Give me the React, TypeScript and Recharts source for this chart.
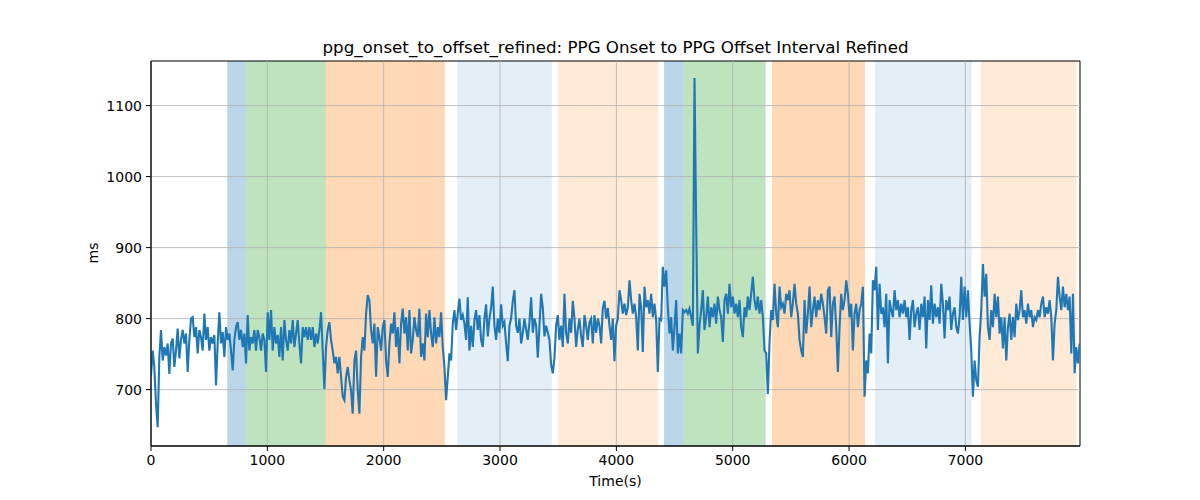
import { Line, LineChart, ReferenceArea, ReferenceLine, XAxis, YAxis } from 'recharts'

// one sample every ~14.3 s in six stretches
const TIME_STEP = 14.33

const SEG_A = [
  720, 755, 732, 680, 647, 746, 784, 741, 760, 748,
  765, 722, 765, 772, 732, 755, 786, 744, 770, 784,
  765, 779, 725, 770, 800, 802, 774, 788, 751, 784,
  774, 755, 807, 770, 788, 755, 774, 765, 777, 706,
  765, 809, 765, 781, 746, 788, 770, 779, 755, 727,
  770, 788, 795, 770, 784, 760, 779, 737, 805, 755,
  774, 765, 784, 755, 784, 774, 755, 779, 770, 725,
  809, 770, 812, 755, 788, 765, 777, 746, 788, 741,
  798, 770, 755, 784, 765, 798, 760, 779, 798, 765,
  737, 788, 774, 788, 770,
]

const SEG_B = [
  788, 770, 788, 760, 779, 765, 784, 809, 755, 701,
  760, 784, 795, 770, 755, 737, 746, 723, 746, 718,
  690, 685, 718, 732, 713, 699, 666, 741, 755, 699,
  666, 746, 774, 755, 807, 833, 826, 784, 765, 793,
  718, 788, 774, 755, 788, 798, 741, 718, 765, 793,
  779, 809, 760, 788, 737, 793, 814, 779, 802, 755,
  812, 751, 770, 802, 784, 774, 814, 746, 765, 741,
  807, 774, 812, 779, 760, 802, 765, 788, 774, 809,
  760, 732, 685, 718, 751, 741, 793, 812, 784, 807,
  828, 798, 805,
]

const SEG_C = [
  793, 770, 830, 755, 790, 760, 798, 812, 784, 805,
  770, 760, 800, 820, 775, 800, 815, 845, 790, 770,
  800, 780, 820, 790, 795, 765, 740, 790, 800, 825,
  840, 790, 780, 800, 765, 780, 800, 785, 770, 795,
  830, 780, 800, 790, 745, 790, 835, 815, 775, 790,
  780, 770, 735, 723, 745, 790, 805, 770, 790, 760,
  835, 780, 765, 800, 780, 825, 800, 760, 785, 800,
  775, 760, 805, 790, 770, 795, 800, 765, 805, 780,
  800, 790, 765, 815, 825, 800, 815, 790, 770, 800,
  740, 790, 800,
]

const SEG_D = [
  840, 826, 807, 821, 805, 816, 854, 826, 807, 821,
  802, 755, 835, 816, 753, 845, 816, 826, 807, 835,
  802, 821, 798, 725, 800, 798, 873, 845, 868, 816,
  779, 802, 755, 788, 826, 751, 779, 751, 812, 809,
  812, 807, 814, 802, 790, 1139, 931, 751, 790, 812,
  840, 784, 802, 831, 788, 816, 802, 821, 793, 831,
  812, 802, 767, 826, 835, 807, 849, 816, 831, 807,
  821, 802, 826, 788, 774, 816, 802, 831, 812, 835,
  859, 826, 812, 831, 807, 826, 802, 755, 751, 694,
  767, 812, 798,
]

const SEG_E = [
  849, 807, 788, 845, 816, 821, 807, 835, 826, 840,
  802, 821, 849, 821, 807, 770, 755, 746, 826, 779,
  807, 845, 788, 812, 831, 802, 826, 812, 835, 821,
  802, 779, 840, 845, 774, 821, 831, 788, 725, 788,
  835, 812, 826, 854, 835, 802, 821, 755, 807, 821,
  788, 812, 821, 845, 690, 741, 723, 779, 751, 854,
  840, 873, 784, 849, 807, 816, 788, 835, 737, 826,
  812, 802, 840, 812, 826, 802, 821, 807, 826, 802,
  816, 770, 812, 826, 788, 807, 816, 784, 821, 802,
  831, 758, 826,
]

const SEG_F = [
  798, 847, 793, 821, 802, 816, 793, 849, 821, 772,
  826, 812, 831, 784, 807, 816, 788, 779, 802, 859,
  798, 845, 802, 840, 793, 755, 690, 741, 713, 704,
  774, 812, 877, 831, 863, 788, 770, 812, 788, 835,
  802, 831, 779, 802, 758, 802, 741, 788, 807, 770,
  802, 774, 821, 798, 812, 840, 802, 812, 793, 821,
  802, 812, 788, 802, 798, 812, 802, 821, 831, 802,
  816, 807, 826, 802, 741, 793, 812, 859, 831, 812,
  845, 816, 835, 812, 831, 751, 835, 723, 760, 737,
  765,
]

const INTERVAL_MS = [...SEG_A, ...SEG_B, ...SEG_C, ...SEG_D, ...SEG_E, ...SEG_F]

const X_TICKS = [0, 1000, 2000, 3000, 4000, 5000, 6000, 7000]
const Y_TICKS = [700, 800, 900, 1000, 1100]
const X_MAX = 7985
const Y_MIN = 620.6
const Y_MAX = 1162.8

// shaded phases
const BAND_START = [655, 819, 1503, 2632, 3499, 4410, 4579, 5338, 6222, 7133]
const BAND_END = [819, 1503, 2526, 3445, 4358, 4579, 5283, 6137, 7053, 7955]
const BAND_KIND = ['blue', 'green', 'orange', 'paleBlue', 'paleOrange', 'blue', 'green', 'orange', 'paleBlue', 'paleOrange']

const BAND_STYLE: Record<string, { fill: string; opacity: number }> = {
  blue: { fill: '#1f77b4', opacity: 0.3 },
  green: { fill: '#2ca02c', opacity: 0.3 },
  orange: { fill: '#ff7f0e', opacity: 0.3 },
  paleBlue: { fill: '#1f77b4', opacity: 0.12 },
  paleOrange: { fill: '#ff7f0e', opacity: 0.16 },
}

const data = INTERVAL_MS.map((ms, i) => ({ time: i * TIME_STEP, ms }))

const FONT = 'DejaVu Sans, sans-serif'

export default function App() {
  return (
    <div style={{ position: 'fixed', left: 0, top: 0, width: 1200, height: 500, background: '#fff', fontFamily: FONT }}>
      <LineChart width={1200} height={500} data={data} margin={{ top: 61, right: 120, bottom: 24, left: 91 }}>
        {BAND_START.map((start, i) => (
          <ReferenceArea
            key={`band-${i}`}
            x1={start}
            x2={BAND_END[i]}
            y1={Y_MIN}
            y2={Y_MAX}
            fill={BAND_STYLE[BAND_KIND[i]].fill}
            fillOpacity={BAND_STYLE[BAND_KIND[i]].opacity}
            stroke="none"
          />
        ))}
        {/* grid sits above the shaded spans, like matplotlib's */}
        {X_TICKS.map((t) => (
          <ReferenceLine key={`gx-${t}`} x={t} stroke="#b0b0b0" strokeWidth={0.8} />
        ))}
        {Y_TICKS.map((t) => (
          <ReferenceLine key={`gy-${t}`} y={t} stroke="#b0b0b0" strokeWidth={0.8} />
        ))}
        <XAxis
          dataKey="time"
          type="number"
          domain={[0, X_MAX]}
          ticks={X_TICKS}
          allowDataOverflow
          height={30}
          tickSize={5}
          tickMargin={4}
          stroke="#000"
          tick={{ fill: '#000', fontSize: 14, fontFamily: FONT }}
        />
        <YAxis
          type="number"
          domain={[Y_MIN, Y_MAX]}
          ticks={Y_TICKS}
          allowDataOverflow
          width={60}
          tickSize={5}
          tickMargin={4}
          stroke="#000"
          tick={{ fill: '#000', fontSize: 14, fontFamily: FONT }}
        />
        <Line dataKey="ms" stroke="#1f77b4" strokeWidth={2.1} dot={false} isAnimationActive={false} />
        <ReferenceArea x1={0} x2={X_MAX} y1={Y_MIN} y2={Y_MAX} fill="none" stroke="#000" strokeWidth={1} />
      </LineChart>
      <svg width={1200} height={500} style={{ position: 'absolute', left: 0, top: 0, pointerEvents: 'none' }}>
        <text x={615.5} y={52.5} textAnchor="middle" fontSize={16.7} fontFamily={FONT} fill="#000">
          ppg_onset_to_offset_refined: PPG Onset to PPG Offset Interval Refined
        </text>
        <text x={615.5} y={486} textAnchor="middle" fontSize={14} fontFamily={FONT} fill="#000">
          Time(s)
        </text>
        <text transform="translate(98,253) rotate(-90)" textAnchor="middle" fontSize={14} fontFamily={FONT} fill="#000">
          ms
        </text>
      </svg>
    </div>
  )
}
